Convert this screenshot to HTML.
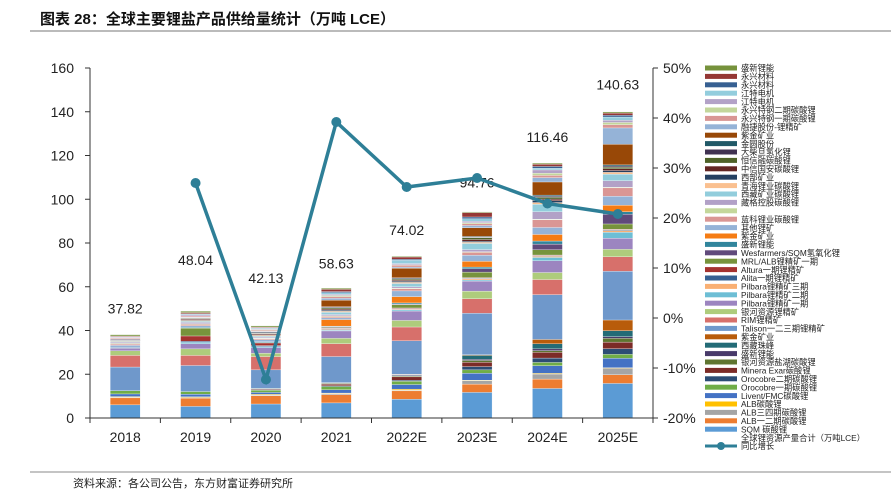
<!DOCTYPE html>
<html><head><meta charset="utf-8">
<style>
html,body{margin:0;padding:0;background:#fff;}
svg{display:block;font-family:"Liberation Sans","Noto Sans CJK SC",sans-serif;}
</style></head>
<body>
<svg id="chart" width="891" height="494" viewBox="0 0 891 494">
<text x="40" y="24" font-size="15" font-weight="bold" fill="#111">图表 28：全球主要锂盐产品供给量统计（万吨 LCE）</text>
<line x1="30" y1="31" x2="891" y2="31" stroke="#777" stroke-width="1"/>
<line x1="30" y1="472" x2="891" y2="472" stroke="#888" stroke-width="1"/>
<text x="73" y="487" font-size="11" fill="#222">资料来源：各公司公告，东方财富证券研究所</text>
<g id="plot"></g>
<g id="legend"></g>
</svg>
<script>
const categories=["2018","2019","2020","2021","2022E","2023E","2024E","2025E"];
const totals=[37.82,48.04,42.13,58.63,74.02,94.76,116.46,140.63];
const growth=[null,27.0,-12.3,39.2,26.2,28.0,22.9,20.8];
const leftTicks=[0,20,40,60,80,100,120,140,160];
const rightTicks=[-20,-10,0,10,20,30,40,50];
const seriesNames=["SQM 碳酸锂","ALB一二期碳酸锂","ALB三四期碳酸锂","ALB碳酸锂","Livent/FMC碳酸锂","Orocobre一期碳酸锂","Orocobre二期碳酸锂","Minera Exar碳酸锂","银河资源盐湖碳酸锂","盛新锂能","西藏珠峰","紫金矿业","Talison一二三期锂精矿","RIM锂精矿","银河资源锂精矿","Pilbara锂精矿一期","Pilbara锂精矿二期","Pilbara锂精矿三期","Alita一期锂精矿","Altura一期锂精矿","MRL/ALB锂精矿一期","Wesfarmers/SQM氢氧化锂","盛新锂能","紫金矿业","其他锂矿","蓝科锂业碳酸锂","","藏格控股碳酸锂","西藏矿业碳酸锂","青海锂业碳酸锂","西部矿业","中信国安碳酸锂","恒信融碳酸锂","大柴旦氢化锂","金圆股份","紫金矿业","融捷股份-锂精矿","永兴特钢一期碳酸锂","永兴特钢二期碳酸锂","江特电机","江特电机","永兴材料","永兴材料","盛新锂能"];
const seriesColors=["#5b9bd5","#ed7d31","#a5a5a5","#ffc000","#4472c4","#70ad47","#2c4d75","#7c2b27","#5f7530","#483a6a","#236b76","#b85c0b","#6f98cb","#d7706b","#aecc7c","#9c85c0","#6dbed5","#f9b074","#366092","#a5322f","#77933c","#604a7b","#31859c","#f57c14","#95b3d7","#da9694","#c4d79b","#b2a1c7","#92cddc","#fac090","#254061","#632523","#4f6228","#403151","#215967","#984807","#95b3d7","#d99694","#c3d69b","#b3a2c7","#93cddd","#376092","#953735","#76923c"];
const s00=[6.0,5.3,6.4,6.9,8.6,11.7,13.5,15.8];
const s01=[3.2,3.8,3.8,3.8,3.8,3.8,4.3,4.0];
const s02=[0.3,0.3,0.3,0.4,0.3,1.5,2.3,2.9];
const s03=[0.3,0.3,0.3,0.3,0.5,0.3,0.3,0.3];
const s04=[1.2,1.2,0.9,1.5,2.1,3.2,3.5,4.3];
const s05=[1.5,1.2,1.0,1.5,1.5,1.5,1.5,1.8];
const s06=[0,0,0.3,0.3,0.5,1.5,2.0,2.6];
const s07=[0,0,0.3,0.8,1.5,2.0,2.6,3.0];
const s08=[0,0,0.2,0.3,0.4,0.8,0.8,1.7];
const s09=[0,0,0,0.2,0.3,0.5,0.8,0.8];
const s10=[0,0,0,0.2,0.3,1.8,2.3,2.7];
const s11=[0,0,0,0,0.2,0.3,2.0,4.9];
const s12=[10.8,11.9,8.5,11.9,15.3,19.0,20.5,22.3];
const s13=[5.3,4.6,6.1,5.9,6.3,6.6,6.9,6.6];
const s14=[2.1,3.0,1.5,2.4,3.0,3.5,3.2,3.4];
const s15=[1.2,2.4,2.6,3.4,4.3,4.6,5.4,5.1];
const s16=[0,0.6,0.5,0.4,0.5,0.5,1.5,2.7];
const s17=[0,0,0,0.3,0.3,0.5,0.5,0.8];
const s18=[0,0.5,0.4,0.3,0.3,0.3,0.3,0.3];
const s19=[0,2.4,1.2,0.3,0.3,0.3,0.3,0.3];
const s20=[0,3.6,0.2,0.3,1.5,2.5,2.4,2.4];
const s21=[0,0,0,0.3,0.3,1.5,2.6,4.4];
const s22=[0.3,0.3,0.3,0.3,0.5,0.8,1.4,1.2];
const s23=[0,0,0,3.0,2.9,2.6,3.0,3.0];
const s24=[1.0,0.8,1.0,0.8,2.6,2.8,3.2,4.1];
const s25=[0.6,0.6,0.4,0.6,1.0,1.3,3.5,3.8];
const s26=[0.3,0.3,0.3,0.3,0.3,0.3,0.3,0.3];
const s27=[0.5,0.6,0.4,0.6,0.6,1.0,3.4,3.0];
const s28=[0.4,0.5,0.5,1.0,1.5,2.8,3.4,3.0];
const s29=[0.3,0.4,0.4,0.5,0.5,0.5,0.8,0.8];
const s30=[0.3,0.3,0.3,0.5,0.5,0.5,0.8,0.8];
const s31=[0.3,0.4,0.4,0.5,0.5,0.8,0.8,0.8];
const s32=[0,0.3,0.3,0.5,0.5,0.8,0.8,0.8];
const s33=[0,0.2,0.3,0.3,0.3,0.3,0.5,0.5];
const s34=[0,0,0.3,0.3,0.3,0.3,0.5,0.5];
const s35=[0,0,0,3.0,4.4,4.0,6.0,9.4];
const s36=[0.3,0.3,0.2,0.8,0.5,1.0,2.0,7.5];
const s37=[0.4,0.5,0.5,0.8,0.8,0.8,1.0,1.5];
const s38=[0,0,0.3,0.5,0.3,0.5,1.0,1.0];
const s39=[0.3,0.5,0.3,0.5,0.5,0.6,1.5,1.0];
const s40=[0.3,0.3,0.3,0.8,1.5,1.2,0.8,1.5];
const s41=[0,0.3,0.3,0.5,0.5,0.8,0.8,0.8];
const s42=[0.3,0.5,0.3,1.0,1.0,2.0,1.0,1.0];
const s43=[0.6,0.6,0.5,0.5,0.3,0.3,0.5,0.5];
const series=[s00,s01,s02,s03,s04,s05,s06,s07,s08,s09,s10,s11,s12,s13,s14,s15,s16,s17,s18,s19,s20,s21,s22,s23,s24,s25,s26,s27,s28,s29,s30,s31,s32,s33,s34,s35,s36,s37,s38,s39,s40,s41,s42,s43];
const labelGap=[22,48,43,21,21,23,21,21];

const NS="http://www.w3.org/2000/svg";
const X0=90,X1=653,Y0=418,Y1=68;
const band=(X1-X0)/categories.length;
const xC=i=>X0+band*(i+0.5);
const yL=v=>Y0-(v/160)*(Y0-Y1);
const yR=v=>Y0-((v+20)/70)*(Y0-Y1);
function mk(tag,attrs,parent){const e=document.createElementNS(NS,tag);for(const k in attrs)e.setAttribute(k,attrs[k]);parent.appendChild(e);return e;}
const plot=document.getElementById('plot');
let ax=mk('line',{x1:X0,y1:Y1,x2:X0,y2:Y0,stroke:'#333','stroke-width':1},plot);


let axr=mk('line',{x1:X1,y1:Y1,x2:X1,y2:Y0,stroke:'#333','stroke-width':1},plot);


leftTicks.forEach(t=>{
  const y=yL(t);
  mk('line',{x1:X0-5,y1:y,x2:X0,y2:y,stroke:'#333'},plot);
  const tx=mk('text',{x:X0-16,y:y+5,'font-size':14,'text-anchor':'end',fill:'#222'},plot);
  tx.textContent=t;
  
  
});
rightTicks.forEach(t=>{
  const y=yR(t);
  mk('line',{x1:X1,y1:y,x2:X1+5,y2:y,stroke:'#333'},plot);
  const tx=mk('text',{x:X1+10,y:y+5,'font-size':14,fill:'#222'},plot);
  tx.textContent=t+'%';
  
  
});
categories.forEach((c,i)=>{
  let acc=0;const bw=30;
  series.forEach((s,k)=>{
    const v=s[i];if(!v)return;
    const yt=yL(acc+v),yb=yL(acc);
    const r=mk('rect',{x:xC(i)-bw/2,y:yt,width:bw,height:yb-yt,fill:seriesColors[k],stroke:'#fff','stroke-width':0.3},plot);
    
    
    acc+=v;
  });
  const lb=mk('text',{x:xC(i),y:yL(totals[i])-labelGap[i],'font-size':14,'text-anchor':'middle',fill:'#222'},plot);
  lb.textContent=totals[i].toFixed(2);
  
  
  const ct=mk('text',{x:xC(i),y:Y0+24,'font-size':14,'text-anchor':'middle',fill:'#222'},plot);
  ct.textContent=c;
  
  
});
let xa=mk('line',{x1:X0,y1:Y0,x2:X1,y2:Y0,stroke:'#333'},plot);


for(let i=0;i<=categories.length;i++){mk('line',{x1:X0+band*i,y1:Y0,x2:X0+band*i,y2:Y0+5,stroke:'#333'},plot);}
const pts=[];growth.forEach((g,i)=>{if(g!==null)pts.push([xC(i),yR(g)]);});
const pl=mk('polyline',{points:pts.map(p=>p.join(',')).join(' '),fill:'none',stroke:'#2e7f97','stroke-width':3.5},plot);


pts.forEach(p=>{const c=mk('circle',{cx:p[0],cy:p[1],r:5,fill:'#2e7f97'},plot);
  
  });
const lg=document.getElementById('legend');
const LY=68,LS=8.4;
for(let j=0;j<series.length;j++){
  const k=series.length-1-j;const y=LY+j*LS;
  const g=mk('g',{},lg);
  
  
  mk('rect',{x:705,y:y-2.5,width:32,height:5,fill:seriesColors[k]},g);
  const t=mk('text',{x:741,y:y+3.2,'font-size':8.3,fill:'#222'},g);t.textContent=seriesNames[k];
}
{const y=LY+44*LS;const g=mk('g',{},lg);
 
 
 const t=mk('text',{x:741,y:y+3.2,'font-size':8.3,fill:'#222'},g);t.textContent='全球锂资源产量合计（万吨LCE）';}
{const y=LY+45*LS;const g=mk('g',{},lg);
 
 
 mk('line',{x1:705,y1:y,x2:737,y2:y,stroke:'#2e7f97','stroke-width':3},g);
 mk('circle',{cx:721,cy:y,r:4,fill:'#2e7f97'},g);
 const t=mk('text',{x:741,y:y+3.2,'font-size':8.3,fill:'#222'},g);t.textContent='同比增长';}
</script>
</body></html>
